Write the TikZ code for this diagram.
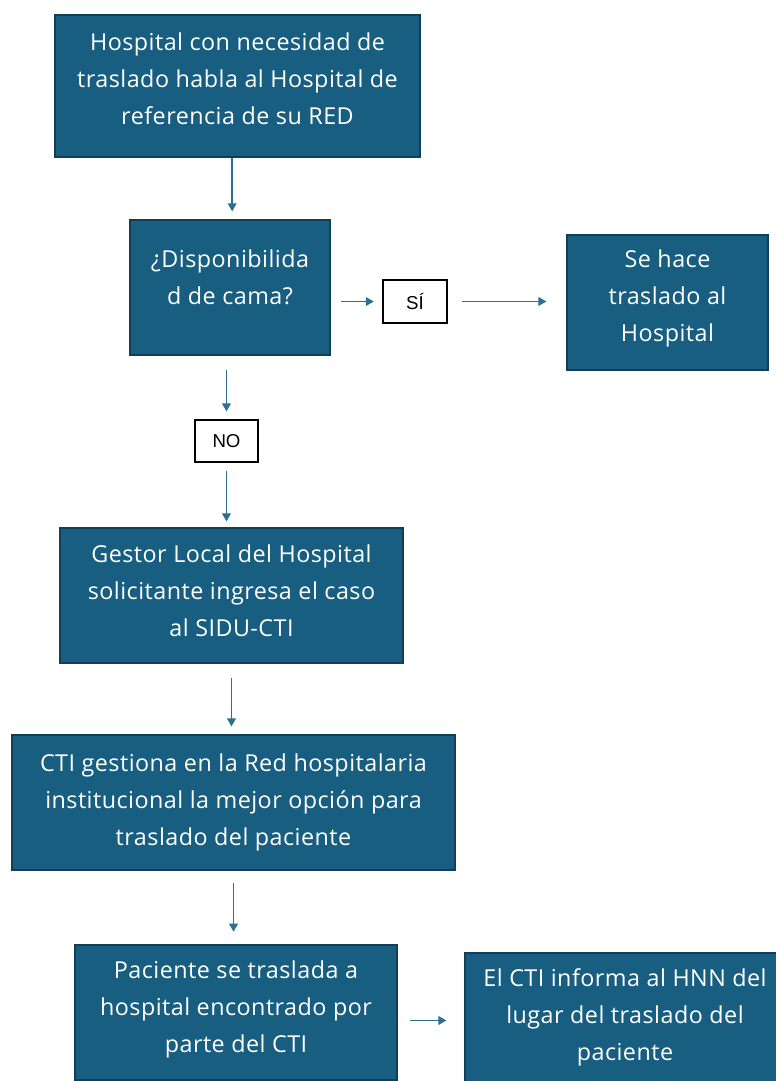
\documentclass[tikz,border=0pt]{standalone}
\usepackage{fontspec}
\setmainfont{Open Sans}[LetterSpace=2]
\newfontfamily\answerfont{Liberation Sans}
\usepackage{tikz}
\usetikzlibrary{shapes,arrows.meta}
\definecolor{boxblue}{HTML}{185E80}
\definecolor{boxline}{HTML}{123F56}
\definecolor{arrowblue}{HTML}{2C6F90}
\tikzstyle{block} = [rectangle, draw=boxline, line width=0.9pt, fill=boxblue,
    text=white, align=center, font=\fontsize{17.5}{27.75}\selectfont, minimum height=101.25pt]
\tikzstyle{answer} = [rectangle, draw=black, line width=0.8pt, fill=white,
    font=\answerfont\fontsize{14}{16}\selectfont]
\tikzstyle{arrow} = [line width=1.1pt, draw=arrowblue, ->, >={Triangle[length=6pt,width=6.5pt]}]

\begin{document}
\begin{tikzpicture}[x=0.75pt, y=-0.75pt]
    \useasboundingbox (0,0) rectangle (775,1081);
    % Place nodes
    \node [block, minimum width=273.75pt, minimum height=106.5pt, text depth=10.5pt] (llamada) at (237.5,86)
        {Hospital con necesidad de\\traslado habla al Hospital de\\referencia de su RED};
    \node [block, minimum width=150pt, text depth=15pt] (cama) at (230,287.5) {¿Disponibilida\\d de cama?};
    \node [answer, minimum width=48pt, minimum height=32.25pt] (si) at (415,301.5) {SÍ};
    \node [block, minimum width=150.75pt, text depth=10.2pt] (traslado) at (667.5,302.5) {Se hace\\traslado al\\Hospital};
    \node [answer, minimum width=47.25pt, minimum height=31.5pt] (no) at (226.5,441) {NO};
    \node [block, minimum width=257.25pt, text depth=7.5pt] (gestor) at (231.5,595.5)
        {Gestor Local del Hospital\\solicitante ingresa el caso\\al SIDU-CTI};
    \node [block, minimum width=332.25pt] (cti) at (233.5,802.5)
        {CTI gestiona en la Red hospitalaria\\institucional la mejor opción para\\traslado del paciente};
    \node [block, minimum width=241.5pt, text depth=8.7pt] (paciente) at (236,1012.5)
        {Paciente se traslada a\\hospital encontrado por\\parte del CTI};
    \node [block, minimum width=240pt, text depth=8.7pt] (informa) at (625,1020.5)
        {El CTI informa al HNN del\\lugar del traslado del\\paciente};
    % Draw edges
    \draw [arrow, shorten >=6pt] ([xshift=-4pt]llamada.south) -- ([xshift=-4pt]llamada.south |- cama.north);
    \draw [arrow, shorten <=7.5pt, shorten >=6.5pt] (cama.east |- si) -- (si.west);
    \draw [arrow, shorten <=11pt, shorten >=15pt] (si.east) -- (si.east -| traslado.west);
    \draw [arrow, shorten <=11pt, shorten >=6pt] (no.north |- cama.south) -- (no.north);
    \draw [arrow, shorten <=6pt, shorten >=4.5pt] (no.south) -- (no.south |- gestor.north);
    \draw [arrow, shorten <=10.5pt, shorten >=6pt] (gestor.south) -- (gestor.south |- cti.north);
    \draw [arrow, shorten <=9pt, shorten >=9.5pt] (cti.south) -- (cti.south |- paciente.north);
    \draw [arrow, shorten <=9.5pt, shorten >=13.5pt] (paciente.east |- informa) -- (informa.west);
\end{tikzpicture}
\end{document}
